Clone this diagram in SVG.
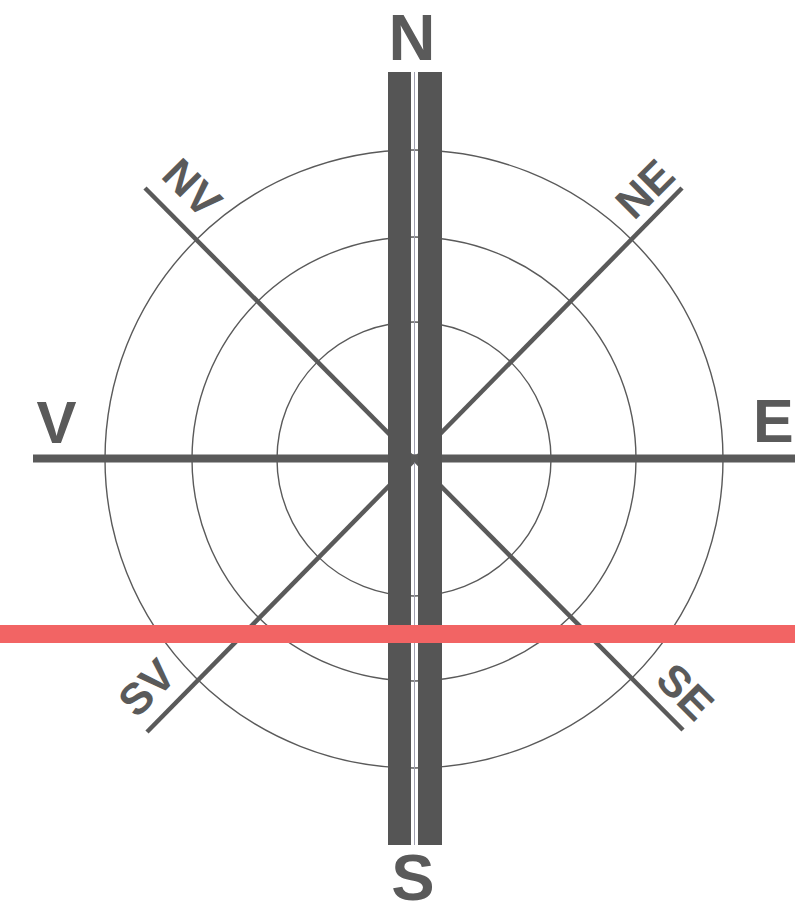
<svg xmlns="http://www.w3.org/2000/svg" width="795" height="915" viewBox="0 0 795 915">
<style>
.ring{fill:none;stroke:#5a5a5a;stroke-width:1.4}
.diag{stroke:#5a5a5a;stroke-width:4.5;stroke-linecap:butt}
.lbl{font-family:"Liberation Sans",Arial,sans-serif;font-weight:bold;fill:#5a5a5a}
.big{font-size:65px}
.small{font-size:44px}
.bar{fill:#555555}
</style>
<rect width="795" height="915" fill="#ffffff"/>
<g id="rings">
<circle class="ring" cx="414" cy="459" r="309"/>
<circle class="ring" cx="414" cy="459" r="222"/>
<circle class="ring" cx="414" cy="459" r="137"/>
</g>
<g id="connectors">
<line class="diag" x1="145" y1="188" x2="683" y2="730"/>
<line class="diag" x1="682" y1="188" x2="147" y2="732"/>
<line x1="33" y1="458.5" x2="795" y2="458.5" stroke="#5a5a5a" stroke-width="8"/>
</g>
<g id="bar">
<rect class="bar" x="388" y="72" width="23" height="773"/>
<rect class="bar" x="418" y="72" width="24" height="773"/>
<line x1="414.5" y1="72" x2="414.5" y2="845" stroke="#a0a0b0" stroke-width="1"/>
<line x1="411" y1="458.5" x2="418" y2="458.5" stroke="#5a5a5a" stroke-width="8"/>
</g>
<g id="red-line">
<rect x="0" y="625" width="795" height="18" fill="#f26464"/>
</g>
<g id="label-N"><text class="lbl big" x="412" y="60" text-anchor="middle">N</text></g>
<g id="label-S"><text class="lbl big" x="413" y="900" text-anchor="middle">S</text></g>
<g id="label-V"><text class="lbl" font-size="60" x="56.5" y="443" text-anchor="middle">V</text></g>
<g id="label-E"><text class="lbl" font-size="61" x="753" y="442">E</text></g>
<g id="label-NV"><text class="lbl small" transform="translate(192,188) rotate(45)" x="0" y="15" text-anchor="middle">NV</text></g>
<g id="label-NE"><text class="lbl small" transform="translate(645,189) rotate(-45)" x="0" y="15" text-anchor="middle">NE</text></g>
<g id="label-SV"><text class="lbl small" transform="translate(147,688) rotate(-45)" x="0" y="15" text-anchor="middle">SV</text></g>
<g id="label-SE"><text class="lbl small" transform="translate(685,692) rotate(45)" x="0" y="15" text-anchor="middle">SE</text></g>
</svg>
